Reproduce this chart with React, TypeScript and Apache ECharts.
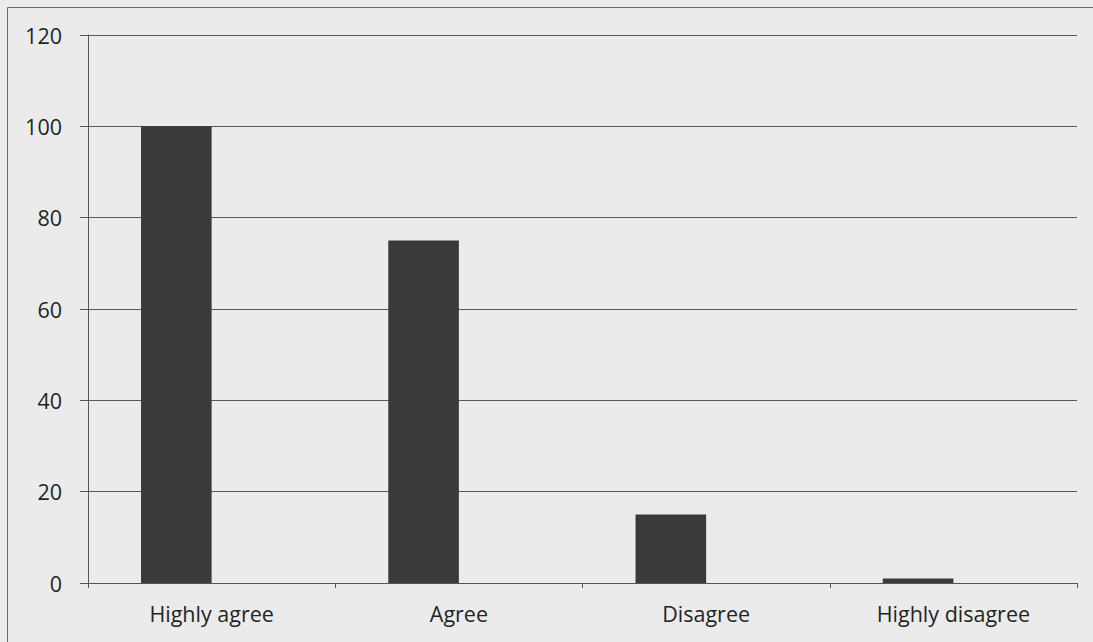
import React, { useEffect, useRef } from "react";
import * as echarts from "echarts";

const categories = ["Highly agree", "Agree", "Disagree", "Highly disagree"];
const values = [100, 75, 15, 1];
const emptySeries = [null, null, null, null];
const yTicks = { min: 0, max: 120, interval: 20 };

export default function App() {
  const ref = useRef<HTMLDivElement>(null);
  useEffect(() => {
    document.body.style.margin = "0";
    const chart = echarts.init(ref.current!, undefined, { renderer: "svg" });
    const font = "'Open Sans', sans-serif";
    chart.setOption({
      animation: false,
      backgroundColor: "#ebebeb",
      textStyle: { fontFamily: font },
      graphic: [
        {
          type: "rect",
          shape: { x: 7.5, y: 7.5, width: 1100, height: 700 },
          style: { fill: "none", stroke: "#6a6a6a", lineWidth: 1 },
          silent: true,
        },
      ],
      grid: { left: 88, right: 16, top: 35, bottom: 59, containLabel: false },
      xAxis: {
        type: "category",
        data: categories,
        axisLine: { show: true, lineStyle: { color: "#555", width: 1 } },
        axisTick: { show: true, length: 5, alignWithLabel: false, lineStyle: { color: "#555" } },
        axisLabel: { color: "#1f261f", fontSize: 21.5, margin: 19, fontFamily: font },
        splitLine: { show: false },
      },
      yAxis: {
        type: "value",
        min: yTicks.min,
        max: yTicks.max,
        interval: yTicks.interval,
        axisLine: { show: true, lineStyle: { color: "#555", width: 1 } },
        axisTick: { show: true, length: 8, lineStyle: { color: "#555" } },
        axisLabel: { color: "#1f261f", fontSize: 21.5, margin: 26, fontFamily: font },
        splitLine: { show: true, lineStyle: { color: "#5a5a5a", width: 1 } },
      },
      series: [
        {
          type: "bar",
          data: values,
          barGap: "0%",
          barCategoryGap: "42.9%",
          itemStyle: { color: "#3a3a3a" },
        },
        {
          type: "bar",
          data: emptySeries,
          barGap: "0%",
          barCategoryGap: "42.9%",
          itemStyle: { color: "#3a3a3a" },
        },
      ],
    });
    return () => chart.dispose();
  }, []);
  return <div ref={ref} style={{ width: 1093, height: 642 }} />;
}
